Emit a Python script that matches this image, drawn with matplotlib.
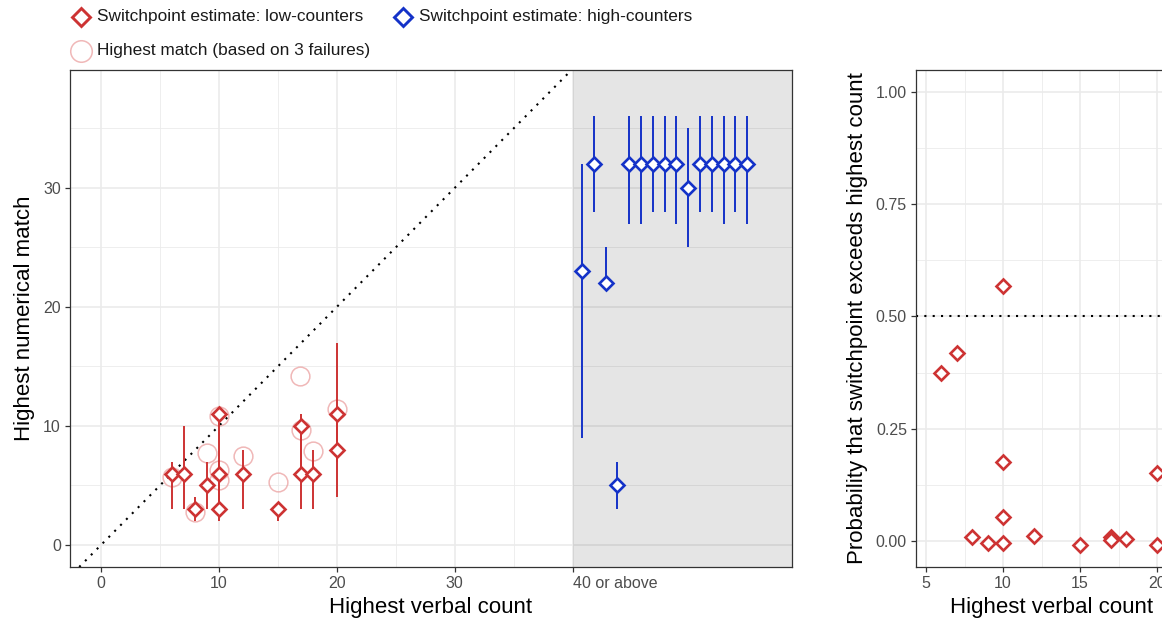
import matplotlib
matplotlib.use('Agg')
import matplotlib.pyplot as plt
from matplotlib.lines import Line2D

plt.rcParams['font.family'] = ['Liberation Sans', 'DejaVu Sans']

# ---------------- data ----------------
low_x = [6, 7, 8, 9, 10, 10, 10, 12, 15, 17, 17, 18, 20, 20]
low_y = [6, 6, 3, 5, 11, 6, 3, 6, 3, 10, 6, 6, 11, 8]
low_lo = [3, 3, 2, 3, 10, 3, 2, 3, 2, 6, 3, 3, 7, 4]
low_hi = [7, 10, 4, 7, 11, 10, 6, 8, 3, 11, 10, 8, 17, 11]

high_x = [40.8, 41.8, 42.8, 43.8, 44.8, 45.8, 46.8, 47.8, 48.8, 49.8, 50.8, 51.8, 52.8, 53.8, 54.8]
high_y = [23, 32, 22, 5, 32, 32, 32, 32, 32, 30, 32, 32, 32, 32, 32]
high_lo = [9, 28, 22, 3, 27, 27, 28, 28, 27, 25, 28, 28, 27, 28, 27]
high_hi = [32, 36, 25, 7, 36, 36, 36, 36, 36, 35, 36, 36, 36, 36, 36]

match_x = [6, 8, 9, 10, 10, 10, 12, 15, 16.9, 17, 18, 20]
match_y = [5.7, 2.8, 7.7, 10.8, 6.3, 5.5, 7.5, 5.3, 14.2, 9.7, 7.9, 11.4]

prob_x = [6, 7, 8, 9, 10, 10, 10, 10, 12, 15, 17, 17, 18, 20, 20]
prob_y = [0.375, 0.418, 0.008, -0.005, 0.568, 0.176, 0.053, -0.004, 0.010,
          -0.010, 0.008, 0.002, 0.005, 0.152, -0.010]

left_xticks = [0, 10, 20, 30, 40]
left_xticklabels = ['0', '10', '20', '30', '40 or above']
left_yticks = [0, 10, 20, 30]
right_xticks = [5, 10, 15, 20]
right_yticks = [0.0, 0.25, 0.5, 0.75, 1.0]
right_yticklabels = ['0.00', '0.25', '0.50', '0.75', '1.00']

legend_labels = ['Switchpoint estimate: low-counters',
                 'Switchpoint estimate: high-counters',
                 'Highest match (based on 3 failures)']

# ---------------- styles ----------------
RED = '#CD3333'
BLUE = '#1432C8'
PINK = '#EBA0A0'
GRID = '#EBEBEB'
SPINE = '#333333'
TICKLAB = '#4D4D4D'
W, H = 1162, 621
DOTS = (0, (1, 3))

fig = plt.figure(figsize=(W / 100, H / 100), dpi=100)


def style_axes(ax):
    ax.set_axisbelow(True)
    for s in ax.spines.values():
        s.set_color(SPINE)
        s.set_linewidth(0.9)
    ax.tick_params(which='major', length=3.5, width=0.9, color=SPINE,
                   labelcolor=TICKLAB, labelsize=11.5, pad=3)
    ax.tick_params(which='minor', length=0)
    ax.grid(True, which='major', color=GRID, lw=1.2)
    ax.grid(True, which='minor', color=GRID, lw=0.6)


# ---------------- left panel ----------------
ax = fig.add_axes([70 / W, 1 - 567 / H, 722 / W, 497 / H])
style_axes(ax)
ax.set_xticks(left_xticks)
ax.set_xticklabels(left_xticklabels)
ax.get_xticklabels()[-1].set_horizontalalignment('left')
ax.set_xticks([5, 15, 25, 35], minor=True)
ax.set_yticks(left_yticks)
ax.set_yticks([5, 15, 25, 35], minor=True)
ax.set_xlim(-2.63, 58.6)
ax.set_ylim(-1.85, 39.9)

ax.axvspan(40, 58.6, color='black', alpha=0.1, lw=0, zorder=1)
ax.axline((0, 0), slope=1, color='black', lw=1.5, ls=DOTS, zorder=1.5)

ax.plot(match_x, match_y, 'o', ls='none', ms=13.5, mfc='none', mec=PINK,
        mew=1.1, alpha=0.75, zorder=2)
ax.vlines(low_x, low_lo, low_hi, color=RED, lw=1.4, zorder=3)
ax.plot(low_x, low_y, 'D', ls='none', ms=7.3, mfc='white', mec=RED, mew=1.9, zorder=4)
ax.vlines(high_x, high_lo, high_hi, color=BLUE, lw=1.4, zorder=3)
ax.plot(high_x, high_y, 'D', ls='none', ms=7.3, mfc='white', mec=BLUE, mew=1.9, zorder=4)

ax.set_xlabel('Highest verbal count', fontsize=16, labelpad=4)
ax.set_ylabel('Highest numerical match', fontsize=16, labelpad=6)

# ---------------- right panel ----------------
R_XMAX = 22.0
ax2 = fig.add_axes([916 / W, 1 - 567 / H, (R_XMAX - 4.35) * 15.4 / W, 497 / H])
style_axes(ax2)
ax2.set_xticks(right_xticks)
ax2.set_xticks([7.5, 12.5, 17.5], minor=True)
ax2.set_yticks(right_yticks)
ax2.set_yticklabels(right_yticklabels)
ax2.set_yticks([0.125, 0.375, 0.625, 0.875], minor=True)
ax2.set_xlim(4.35, R_XMAX)
ax2.set_ylim(-0.058, 1.049)
ax2.axhline(0.5, color='black', lw=1.5, ls=DOTS, zorder=1.5)
ax2.plot(prob_x, prob_y, 'D', ls='none', ms=7.3, mfc='white', mec=RED, mew=1.9, zorder=4)
ax2.set_xlabel('Highest verbal count', fontsize=16, labelpad=4)
ax2.set_ylabel('Probability that switchpoint exceeds highest count', fontsize=16, labelpad=6)

# ---------------- legend (top) ----------------
leg_items = [
    (81, 17, dict(marker='D', ms=9, mfc='white', mec=RED, mew=2.1), legend_labels[0]),
    (403, 17, dict(marker='D', ms=9, mfc='white', mec=BLUE, mew=2.1), legend_labels[1]),
    (81, 51, dict(marker='o', ms=15.5, mfc='none', mec=PINK, mew=1.1, alpha=0.75), legend_labels[2]),
]
for px, py, mk, lab in leg_items:
    fig.add_artist(Line2D([px / W], [1 - py / H], transform=fig.transFigure, ls='none', **mk))
    fig.text((px + 16) / W, 1 - py / H, lab, fontsize=12.4, color='#1A1A1A',
             va='center', ha='left')

fig.savefig('out.png', dpi=100)
